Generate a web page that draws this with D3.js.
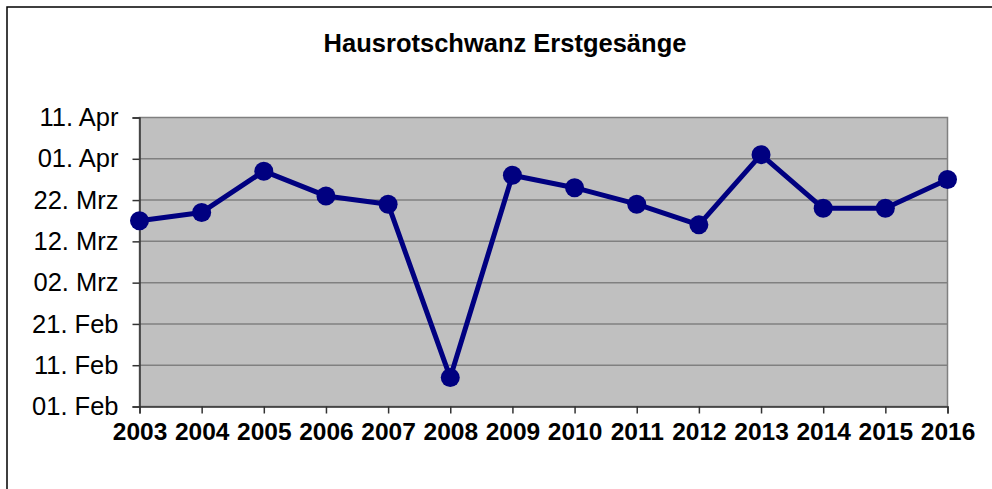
<!DOCTYPE html>
<html>
<head>
<meta charset="utf-8">
<script src="https://cdn.jsdelivr.net/npm/d3@7"></script>
<style>
  body { margin: 0; background: #fff; }
  svg { display: block; font-family: "Liberation Sans", Arial, sans-serif; }
</style>
</head>
<body>
<div id="chart"></div>
<script>
// years on the x axis
const years = ["2003", "2004", "2005", "2006", "2007", "2008", "2009", "2010", "2011", "2012", "2013", "2014", "2015", "2016"];
// first song, days after 01. Feb
const firstSong = [45, 47, 57, 51, 49, 7, 56, 53, 49, 44, 61, 48, 48, 55];
// y tick values (days after 01. Feb) and their labels
const tickDays = [0, 10, 20, 30, 40, 50, 60, 70];
const tickLabels = ["01. Feb", "11. Feb", "21. Feb", "02. Mrz", "12. Mrz", "22. Mrz", "01. Apr", "11. Apr"];

const W = 992, H = 489;
const plot = { left: 139.5, top: 117.5, right: 947.5, bottom: 406.5 };

const svg = d3.select("#chart").append("svg")
  .attr("width", W)
  .attr("height", H);

// outer frame
svg.append("rect")
  .attr("x", 7).attr("y", 7)
  .attr("width", W + 20).attr("height", H + 20)
  .attr("fill", "#fff")
  .attr("stroke", "#000")
  .attr("stroke-width", 1.5);

// title
svg.append("text")
  .attr("x", 505)
  .attr("y", 52)
  .attr("text-anchor", "middle")
  .style("font-size", "25.5px")
  .style("font-weight", "bold")
  .text("Hausrotschwanz Erstgesänge");

const x = d3.scalePoint()
  .domain(years)
  .range([plot.left, plot.right]);

const y = d3.scaleLinear()
  .domain([0, 70])
  .range([plot.bottom, plot.top]);

// plot background
svg.append("rect")
  .attr("x", plot.left).attr("y", plot.top)
  .attr("width", plot.right - plot.left)
  .attr("height", plot.bottom - plot.top)
  .attr("fill", "#c0c0c0")
  .attr("stroke", "#808080")
  .attr("stroke-width", 1.5);

// gridlines
svg.append("g")
  .selectAll("line")
  .data(tickDays.slice(1, -1))
  .join("line")
  .attr("x1", plot.left).attr("x2", plot.right)
  .attr("y1", d => y(d)).attr("y2", d => y(d))
  .attr("stroke", "#808080")
  .attr("stroke-width", 1.5);

// y axis
const yAxis = svg.append("g")
  .attr("transform", `translate(${plot.left},0)`)
  .call(d3.axisLeft(y)
    .tickValues(tickDays)
    .tickFormat((d, i) => tickLabels[i])
    .tickSize(7)
    .tickPadding(14));
yAxis.select(".domain").attr("stroke", "#333").attr("stroke-width", 1.5);
yAxis.selectAll(".tick line").attr("stroke", "#333").attr("stroke-width", 1.5);
yAxis.selectAll("text")
  .style("font-size", "25.5px")
  .style("font-family", "Liberation Sans, Arial, sans-serif")
  .attr("fill", "#000");

// x axis
const xAxis = svg.append("g")
  .attr("transform", `translate(0,${plot.bottom})`)
  .call(d3.axisBottom(x).tickSize(7).tickPadding(9));
xAxis.select(".domain").attr("stroke", "#333").attr("stroke-width", 1.5);
xAxis.selectAll(".tick line").attr("stroke", "#333").attr("stroke-width", 1.5);
xAxis.selectAll("text")
  .style("font-size", "24.5px")
  .style("font-weight", "bold")
  .style("font-family", "Liberation Sans, Arial, sans-serif")
  .attr("fill", "#000");

// series line
const line = d3.line()
  .x((d, i) => x(years[i]))
  .y(d => y(d));

svg.append("path")
  .datum(firstSong)
  .attr("fill", "none")
  .attr("stroke", "#000080")
  .attr("stroke-width", 5)
  .attr("stroke-linejoin", "round")
  .attr("d", line);

svg.append("g")
  .selectAll("circle")
  .data(firstSong)
  .join("circle")
  .attr("cx", (d, i) => x(years[i]))
  .attr("cy", d => y(d))
  .attr("r", 9.5)
  .attr("fill", "#000080");
</script>
</body>
</html>
